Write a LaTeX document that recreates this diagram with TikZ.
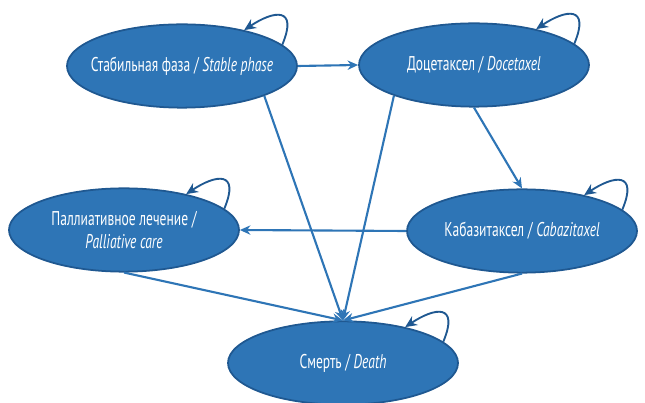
\documentclass[tikz,border=0pt]{standalone}
\usepackage{fontspec}
\setmainfont[FakeStretch=0.68]{PT Sans}
\usetikzlibrary{shapes.geometric,arrows.meta}
\definecolor{stateblue}{RGB}{46,117,182}
\definecolor{rimblue}{RGB}{31,88,145}

\begin{document}
\begin{tikzpicture}[x=0.03cm, y=-0.03cm,
  trans/.style={draw=stateblue, line width=1.8pt, -{Stealth[length=9pt,width=8pt]}},
  stay/.style={draw=rimblue, line width=1.6pt, -{Stealth[length=10pt,width=9pt]}}]
 \useasboundingbox (0,0) rectangle (645,403);
 \begin{scope}[every node/.style={ellipse, fill=stateblue, draw=rimblue, line width=1.5pt,
     minimum width=6.9cm, minimum height=2.5cm, inner xsep=-60pt, inner ysep=0pt,
     text=white, align=center, font=\fontsize{17}{20}\selectfont}]
   \node (st) at (182,66)  {Стабильная фаза / \textit{Stable phase}};
   \node (dc) at (474,65)  {Доцетаксел / \textit{Docetaxel}};
   \node (pc) at (124,230) {Паллиативное лечение /\\ \textit{Palliative care}};
   \node (cb) at (522,231) {Кабазитаксел / \textit{Cabazitaxel}};
   \node (de) at (343,363) {Смерть / \textit{Death}};
 \end{scope}
 % transitions
 \draw [trans] (st.east) -- (dc.west);
 \draw [trans] (dc.south) -- (cb.north);
 \draw [trans] (cb.west) -- (pc.east);
 \draw [trans] (st.-20) -- (de.north);
 \draw [trans] (dc.-159) -- (de.north);
 \draw [trans] (pc.south) -- (de.north);
 \draw [trans] (cb.south) -- (de.north);
 % staying in the same state
 \draw [stay] (st.12) .. controls +(16,-38) and +(30,-20) .. (st.30);
 \draw [stay] (dc.12) .. controls +(16,-38) and +(30,-20) .. (dc.30);
 \draw [stay] (pc.12) .. controls +(16,-38) and +(30,-20) .. (pc.30);
 \draw [stay] (cb.12) .. controls +(16,-38) and +(30,-20) .. (cb.30);
 \draw [stay] (de.12) .. controls +(16,-38) and +(30,-20) .. (de.30);
\end{tikzpicture}
\end{document}
